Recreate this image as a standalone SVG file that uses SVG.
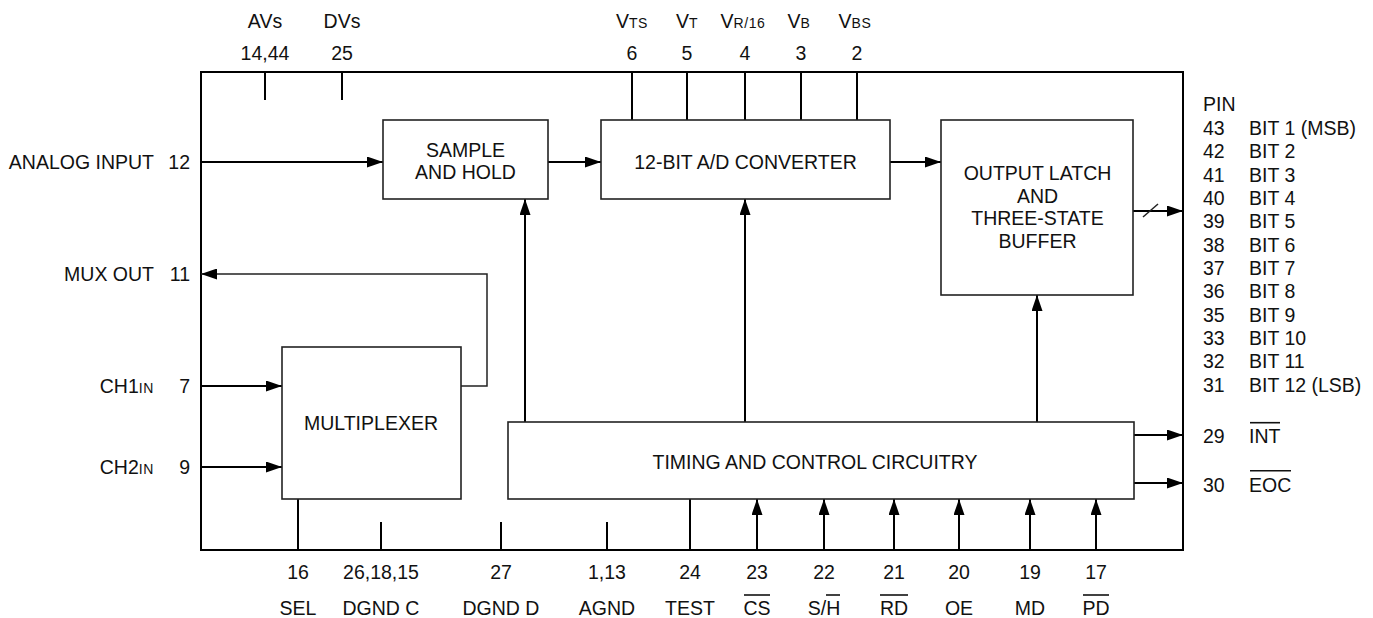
<svg xmlns="http://www.w3.org/2000/svg" width="1373" height="618" viewBox="0 0 1373 618">
<style>
text{font-family:"Liberation Sans",Arial,Helvetica,sans-serif;font-size:19.5px;fill:#111}
.m{text-anchor:middle}
.e{text-anchor:end}
.s{font-size:14px;letter-spacing:0.6px}
.box{fill:#fff;stroke:#222;stroke-width:1.6}
.outer{fill:none;stroke:#000;stroke-width:2}
.w{fill:none;stroke:#000;stroke-width:2}
.thin{fill:none;stroke:#222;stroke-width:1.5}
.ol{stroke:#111;stroke-width:1.6}
</style>
<defs>
<marker id="ah" viewBox="0 0 16 11" refX="16" refY="5.5" markerWidth="16" markerHeight="11" markerUnits="userSpaceOnUse" orient="auto">
<path d="M0,0 L16,5.5 L0,11 z" fill="#000"/>
</marker>
</defs>

<g id="chip"><rect class="outer" x="201" y="72" width="982" height="478"/></g>

<g id="connectors">
<path class="w" d="M201,162 H383" marker-end="url(#ah)"/>
<path class="w" d="M548,162 H601" marker-end="url(#ah)"/>
<path class="w" d="M890,162 H941" marker-end="url(#ah)"/>
<path class="thin" d="M461,386 H487 V274 H201" marker-end="url(#ah)"/>
<path class="w" d="M201,386 H282" marker-end="url(#ah)"/>
<path class="w" d="M201,467 H282" marker-end="url(#ah)"/>
<path class="w" d="M525,422 V199" marker-end="url(#ah)"/>
<path class="w" d="M745,422 V199" marker-end="url(#ah)"/>
<path class="w" d="M1037,422 V295" marker-end="url(#ah)"/>
<path class="w" d="M1133,211 H1183" marker-end="url(#ah)"/>
<path class="thin" d="M1143,217 L1158,204"/>
<path class="w" d="M1134,435 H1183" marker-end="url(#ah)"/>
<path class="w" d="M1134,483 H1183" marker-end="url(#ah)"/>
<path class="w" d="M632,72 V120 M687,72 V120 M745,72 V120 M801,72 V120 M857,72 V120"/>
<path class="w" d="M265,72 V100 M342,72 V100"/>
<path class="w" d="M298,499 V550 M381,522 V550 M501,522 V550 M607,522 V550 M690,499 V550"/>
<path class="w" d="M757,550 V499" marker-end="url(#ah)"/>
<path class="w" d="M824,550 V499" marker-end="url(#ah)"/>
<path class="w" d="M894,550 V499" marker-end="url(#ah)"/>
<path class="w" d="M959,550 V499" marker-end="url(#ah)"/>
<path class="w" d="M1030,550 V499" marker-end="url(#ah)"/>
<path class="w" d="M1096,550 V499" marker-end="url(#ah)"/>
</g>

<g id="sample-hold">
<rect class="box" x="383" y="120" width="165" height="79"/>
<text class="m" x="465.5" y="156.5">SAMPLE</text>
<text class="m" x="465.5" y="179">AND HOLD</text>
</g>
<g id="adc">
<rect class="box" x="601" y="120" width="289" height="79"/>
<text class="m" x="745.5" y="169">12-BIT A/D CONVERTER</text>
</g>
<g id="output-latch">
<rect class="box" x="941" y="120" width="192" height="175"/>
<text class="m" x="1037.5" y="180">OUTPUT LATCH</text>
<text class="m" x="1037.5" y="202.7">AND</text>
<text class="m" x="1037.5" y="225.4">THREE-STATE</text>
<text class="m" x="1037.5" y="248.1">BUFFER</text>
</g>
<g id="multiplexer">
<rect class="box" x="282" y="347" width="179" height="152"/>
<text class="m" x="371" y="430">MULTIPLEXER</text>
</g>
<g id="timing">
<rect class="box" x="508" y="422" width="626" height="77"/>
<text class="m" x="815" y="469">TIMING AND CONTROL CIRCUITRY</text>
</g>

<g id="left-pins">
<text class="e" x="154" y="169">ANALOG INPUT</text><text class="e" x="190" y="169">12</text>
<text class="e" x="154" y="281">MUX OUT</text><text class="e" x="190" y="281">11</text>
<text class="e" x="154" y="393">CH1<tspan class="s">IN</tspan></text><text class="e" x="190" y="393">7</text>
<text class="e" x="154" y="474">CH2<tspan class="s">IN</tspan></text><text class="e" x="190" y="474">9</text>
</g>

<g id="top-pins">
<text class="m" x="265" y="28">AVs</text><text class="m" x="265" y="60">14,44</text>
<text class="m" x="342" y="28">DVs</text><text class="m" x="342" y="60">25</text>
<text class="m" x="632" y="28">V<tspan class="s">TS</tspan></text><text class="m" x="632" y="60">6</text>
<text class="m" x="687" y="28">V<tspan class="s">T</tspan></text><text class="m" x="687" y="60">5</text>
<text class="m" x="743" y="28">V<tspan class="s">R/16</tspan></text><text class="m" x="745" y="60">4</text>
<text class="m" x="799" y="28">V<tspan class="s">B</tspan></text><text class="m" x="801" y="60">3</text>
<text class="m" x="855" y="28">V<tspan class="s">BS</tspan></text><text class="m" x="857" y="60">2</text>
</g>

<g id="right-pins">
<text x="1203" y="111">PIN</text>
<text x="1203" y="135">43</text><text x="1249" y="135">BIT 1 (MSB)</text>
<text x="1203" y="158.3">42</text><text x="1249" y="158.3">BIT 2</text>
<text x="1203" y="181.7">41</text><text x="1249" y="181.7">BIT 3</text>
<text x="1203" y="205">40</text><text x="1249" y="205">BIT 4</text>
<text x="1203" y="228.3">39</text><text x="1249" y="228.3">BIT 5</text>
<text x="1203" y="251.7">38</text><text x="1249" y="251.7">BIT 6</text>
<text x="1203" y="275">37</text><text x="1249" y="275">BIT 7</text>
<text x="1203" y="298.3">36</text><text x="1249" y="298.3">BIT 8</text>
<text x="1203" y="321.7">35</text><text x="1249" y="321.7">BIT 9</text>
<text x="1203" y="345">33</text><text x="1249" y="345">BIT 10</text>
<text x="1203" y="368.3">32</text><text x="1249" y="368.3">BIT 11</text>
<text x="1203" y="391.7">31</text><text x="1249" y="391.7">BIT 12 (LSB)</text>
<text x="1203" y="442.7">29</text><text x="1249" y="442.7">INT</text>
<line class="ol" x1="1250" y1="422.7" x2="1280" y2="422.7"/>
<text x="1203" y="491.7">30</text><text x="1249" y="491.7">EOC</text>
<line class="ol" x1="1250" y1="470.7" x2="1291" y2="470.7"/>
</g>

<g id="bottom-pins">
<text class="m" x="298" y="578.5">16</text><text class="m" x="298" y="615">SEL</text>
<text class="m" x="381" y="578.5">26,18,15</text><text class="m" x="381" y="615">DGND C</text>
<text class="m" x="501" y="578.5">27</text><text class="m" x="501" y="615">DGND D</text>
<text class="m" x="607" y="578.5">1,13</text><text class="m" x="607" y="615">AGND</text>
<text class="m" x="690" y="578.5">24</text><text class="m" x="690" y="615">TEST</text>
<text class="m" x="757" y="578.5">23</text><text class="m" x="757" y="615">CS</text>
<line class="ol" x1="744" y1="595" x2="770" y2="595"/>
<text class="m" x="824" y="578.5">22</text><text class="m" x="824" y="615">S/H</text>
<line class="ol" x1="826" y1="595" x2="840" y2="595"/>
<text class="m" x="894" y="578.5">21</text><text class="m" x="894" y="615">RD</text>
<line class="ol" x1="880" y1="595" x2="908" y2="595"/>
<text class="m" x="959" y="578.5">20</text><text class="m" x="959" y="615">OE</text>
<text class="m" x="1030" y="578.5">19</text><text class="m" x="1030" y="615">MD</text>
<text class="m" x="1096" y="578.5">17</text><text class="m" x="1096" y="615">PD</text>
<line class="ol" x1="1083" y1="595" x2="1109" y2="595"/>
</g>
</svg>
